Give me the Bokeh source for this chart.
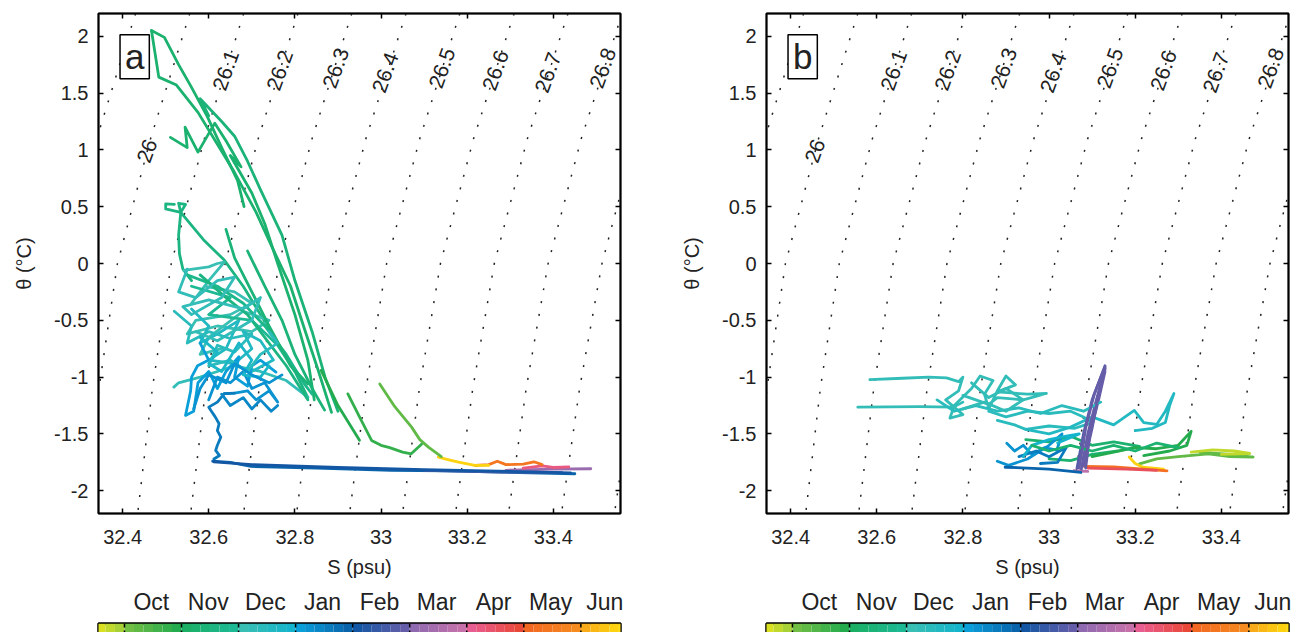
import numpy as np
from bokeh.plotting import figure
from bokeh.models import (ColumnDataSource, Range1d, LinearAxis, FixedTicker, Label,
                          Span, BoxAnnotation, NumeralTickFormatter, CustomJSTickFormatter)
from bokeh.transform import linear_cmap
from bokeh.layouts import column, row
from bokeh.embed import file_html
from bokeh.resources import INLINE
from bokeh.core.properties import value

FONT = "Liberation Sans"

# ---------------- data ----------------
x_ticks = [32.4, 32.6, 32.8, 33.0, 33.2, 33.4]
y_ticks = [-2, -1.5, -1, -0.5, 0, 0.5, 1, 1.5, 2]
months = ["Oct", "Nov", "Dec", "Jan", "Feb", "Mar", "Apr", "May", "Jun"]
month_label_pos = [1.47, 2.47, 3.47, 4.47, 5.47, 6.47, 7.47, 8.47, 9.42]
month_bounds = [1, 2, 3, 4, 5, 6, 7, 8, 9]

# isopycnals (sigma-theta): S at theta levels
iso_theta = [2.2, 1.1, 0.0, -1.1, -2.2]
iso_sigma = [25.9, 26.0, 26.1, 26.2, 26.3, 26.4, 26.5, 26.6, 26.7, 26.8, 26.9, 27.0]
iso_S = [
    [32.430, 32.340, 32.263, 32.221, 32.189],
    [32.556, 32.465, 32.388, 32.345, 32.312],
    [32.681, 32.590, 32.513, 32.469, 32.435],
    [32.807, 32.715, 32.638, 32.593, 32.558],
    [32.932, 32.840, 32.763, 32.717, 32.681],
    [33.058, 32.965, 32.888, 32.841, 32.804],
    [33.183, 33.090, 33.013, 32.965, 32.927],
    [33.309, 33.215, 33.138, 33.089, 33.050],
    [33.434, 33.340, 33.263, 33.213, 33.173],
    [33.560, 33.465, 33.388, 33.337, 33.296],
    [33.685, 33.590, 33.513, 33.461, 33.419],
    [33.811, 33.715, 33.638, 33.585, 33.542],
]
iso_label_text = ["26", "26.1", "26.2", "26.3", "26.4", "26.5", "26.6", "26.7", "26.8"]
iso_label_S = [32.457, 32.640, 32.765, 32.895, 33.010, 33.142, 33.266, 33.388, 33.515]
iso_label_T = [0.99, 1.70, 1.70, 1.72, 1.68, 1.72, 1.70, 1.68, 1.72]

# colour-bar anchor colours (time in months: 1 = 1 Oct ... 9 = 1 Jun)
cmap_t = [0.545, 0.999, 1.0, 1.999, 2.0, 2.999, 3.0, 3.999, 4.0, 4.999,
          5.0, 5.999, 6.0, 6.999, 7.0, 7.999, 8.0, 8.999, 9.0, 9.834]
cmap_hex = ["#dfe31e", "#9ccc3c", "#78c043", "#1ca94f", "#1aae5f", "#1dba9a",
            "#3dc0b0", "#10b4cf", "#0aa5de", "#0a5ea8", "#0b56a3", "#6e5ea9",
            "#8b69b0", "#cc72ab", "#e9609b", "#e9452f", "#f26522", "#f68e20",
            "#f9a51c", "#fde60c"]

# panel a tracks: salinity, temperature, time (months)
a_S = [
    [32.467, 32.497, 32.53, 32.56, 32.597, 32.63, 32.667, 32.682],
    [32.467, 32.484, 32.525, 32.575, 32.62, 32.66, 32.71, 32.75, 32.79, 32.82, 32.855, 32.885],
    [32.511, 32.55, 32.545, 32.575, 32.614, 32.64, 32.675, 32.65, 32.70, 32.73, 32.76, 32.80, 32.83, 32.845],
    [32.60, 32.58, 32.63, 32.66, 32.69, 32.72, 32.77, 32.80, 32.84, 32.87, 32.90],
    [32.52, 32.50, 32.50, 32.535, 32.546, 32.53, 32.535, 32.59, 32.636, 32.68, 32.72, 32.76, 32.80, 32.83],
    [32.535, 32.53, 32.532, 32.54, 32.56],
    [32.542, 32.60, 32.62, 32.636, 32.60, 32.56, 32.59, 32.66, 32.70, 32.65, 32.57, 32.55, 32.62, 32.70, 32.74, 32.68, 32.60, 32.58, 32.63],
    [32.519, 32.53, 32.58, 32.62, 32.66, 32.72, 32.78, 32.83],
    [32.56, 32.60, 32.58, 32.62, 32.67, 32.64, 32.60, 32.66, 32.70, 32.68, 32.72, 32.75, 32.70],
    [32.55, 32.62, 32.68, 32.73, 32.78, 32.82, 32.84],
    [32.56, 32.65, 32.60, 32.70, 32.76, 32.80],
    [32.58, 32.60, 32.574, 32.56, 32.558, 32.546, 32.565, 32.575, 32.60, 32.62, 32.64, 32.67, 32.66, 32.69, 32.70, 32.72, 32.756],
    [32.60, 32.62, 32.65, 32.68, 32.70, 32.73, 32.76, 32.74, 32.71, 32.69, 32.66, 32.636],
    [32.66, 32.636, 32.62, 32.60, 32.605, 32.615, 32.624, 32.62, 32.628, 32.62, 32.616, 32.625, 32.612],
    [32.609, 32.65, 32.698, 32.85, 33.024, 33.15, 33.28, 33.45],
    [33.10, 33.28, 33.42],
    [33.29, 33.40, 33.487],
    [33.33, 33.374, 33.40, 33.436],
    [33.218, 33.25, 33.27, 33.29, 33.33, 33.355, 33.374],
    [33.133, 33.16, 33.18, 33.218, 33.25],
    [32.997, 33.03, 33.071, 33.09, 33.11, 33.14],
    [32.923, 32.95, 32.978, 33.0, 33.02, 33.05, 33.07, 33.094],
    [32.861, 32.90, 32.95],
    [32.69, 32.73, 32.77, 32.80, 32.84, 32.869],
    [32.64, 32.66, 32.70, 32.74, 32.79, 32.83],
    [32.58, 32.64, 32.69, 32.74, 32.78, 32.81, 32.83],
    [32.55, 32.53, 32.57, 32.62, 32.66, 32.63, 32.56, 32.54, 32.60, 32.68, 32.72, 32.70, 32.62, 32.57],
    [32.52, 32.56, 32.55, 32.60, 32.65, 32.70, 32.66, 32.62, 32.60, 32.65, 32.69, 32.72, 32.76, 32.74],
    [32.58, 32.62, 32.60, 32.63, 32.67, 32.70, 32.68, 32.72, 32.74],
    [32.565, 32.58, 32.60, 32.64, 32.66, 32.70, 32.74, 32.77],
    [32.63, 32.65, 32.68, 32.70, 32.72, 32.745, 32.76],
    [32.612, 32.70, 32.90, 33.10, 33.30, 33.44],
]
a_T = [
    [2.05, 1.99, 1.75, 1.55, 1.29, 1.02, 0.73, 0.50],
    [2.05, 1.64, 1.57, 1.33, 1.05, 0.80, 0.45, 0.12, -0.20, -0.55, -0.95, -1.31],
    [1.11, 1.02, 1.20, 0.98, 1.235, 1.08, 0.85, 0.95, 0.62, 0.35, 0.0, -0.45, -0.85, -1.20],
    [1.30, 1.45, 1.25, 1.12, 0.90, 0.65, 0.25, -0.15, -0.60, -1.00, -1.30],
    [0.52, 0.525, 0.48, 0.45, 0.52, 0.53, 0.45, 0.20, 0.03, -0.20, -0.45, -0.70, -0.95, -1.18],
    [0.45, 0.25, 0.085, -0.05, -0.15],
    [-0.06, -0.03, 0.0, 0.012, -0.15, -0.35, -0.20, -0.25, -0.35, -0.45, -0.50, -0.62, -0.55, -0.60, -0.50, -0.42, -0.65, -0.80, -0.75],
    [-1.088, -1.05, -1.00, -0.95, -0.90, -0.95, -1.03, -1.176],
    [-0.40, -0.55, -0.70, -0.62, -0.50, -0.75, -0.85, -0.88, -0.75, -0.60, -0.68, -0.85, -0.95],
    [-0.10, -0.20, -0.35, -0.55, -0.80, -1.05, -1.15],
    [-0.20, -0.30, -0.45, -0.50, -0.72, -0.95],
    [-0.70, -0.85, -0.90, -1.00, -1.12, -1.337, -1.30, -1.05, -0.95, -1.10, -0.95, -0.82, -1.00, -1.08, -0.90, -0.85, -0.956],
    [-1.20, -1.00, -1.05, -0.95, -1.10, -1.05, -1.22, -1.12, -1.20, -1.12, -1.14, -1.146],
    [-1.14, -1.146, -1.22, -1.264, -1.294, -1.35, -1.41, -1.47, -1.528, -1.60, -1.645, -1.69, -1.72],
    [-1.74, -1.75, -1.786, -1.80, -1.82, -1.825, -1.836, -1.85],
    [-1.82, -1.835, -1.84],
    [-1.82, -1.81, -1.806],
    [-1.80, -1.78, -1.795, -1.79],
    [-1.777, -1.77, -1.74, -1.77, -1.765, -1.745, -1.77],
    [-1.704, -1.73, -1.748, -1.777, -1.777],
    [-1.06, -1.25, -1.44, -1.55, -1.616, -1.70],
    [-1.147, -1.35, -1.557, -1.60, -1.62, -1.66, -1.675, -1.59],
    [-0.94, -1.25, -1.556],
    [0.11, -0.20, -0.50, -0.80, -1.10, -1.29],
    [0.30, 0.05, -0.25, -0.55, -0.90, -1.06],
    [-0.10, -0.30, -0.45, -0.70, -0.90, -1.08, -1.20],
    [-0.05, -0.25, -0.30, -0.15, -0.12, -0.30, -0.45, -0.38, -0.32, -0.40, -0.30, -0.50, -0.68, -0.60],
    [-0.42, -0.55, -0.70, -0.60, -0.66, -0.62, -0.78, -0.72, -0.90, -0.85, -0.95, -0.80, -0.70, -0.60],
    [-0.65, -0.78, -0.88, -0.95, -0.70, -0.85, -0.98, -1.00, -0.90],
    [-1.28, -1.10, -0.98, -1.05, -0.88, -0.98, -1.05, -0.98],
    [-1.15, -1.25, -1.18, -1.28, -1.20, -1.30, -1.25],
    [-1.745, -1.77, -1.795, -1.815, -1.83, -1.842],
]
a_month = [2.2, 2.25, 2.3, 2.35, 2.5, 2.55, 3.1, 3.3, 3.5, 2.8, 2.85,
           4.1, 4.3, 4.5, 4.95, 5.5, 6.2, 7.3, 8.4, 9.5, 1.2, 1.7, 1.85,
           2.4, 2.45, 2.6, 3.2, 3.4, 3.7, 4.2, 4.4, 5.05]

# panel b tracks
b_S = [
    [32.556, 32.70, 32.778, 32.80],
    [32.584, 32.66, 32.72, 32.762, 32.79, 32.80, 32.79, 32.76, 32.80, 32.77, 32.78, 32.82, 32.84, 32.87, 32.85, 32.86, 32.88, 32.90, 32.922, 32.88, 32.95, 32.994, 32.94, 32.88, 32.86, 32.83, 32.80],
    [32.86, 32.90, 32.95, 33.0, 33.05, 33.08, 33.10, 33.06, 33.0, 32.946, 32.92, 32.88],
    [32.946, 33.0, 33.05, 33.10, 33.15, 33.198, 33.22, 33.25, 33.27, 33.29, 33.28, 33.27, 33.24, 33.20],
    [32.946, 33.0, 33.05, 33.10, 33.15, 33.21, 33.16, 33.10, 33.05, 33.0],
    [33.10, 33.15, 33.20, 33.25, 33.30, 33.33, 33.32, 33.28, 33.22],
    [33.21, 33.25, 33.30, 33.37, 33.42, 33.474, 33.42, 33.35],
    [33.33, 33.38, 33.43, 33.466, 33.40],
    [33.186, 33.20, 33.218, 33.266],
    [33.082, 33.15, 33.22, 33.274],
    [33.09, 33.18, 33.25],
    [33.058, 33.09],
    [33.065, 33.08, 33.10, 33.13],
    [33.075, 33.09, 33.11, 33.13],
    [33.085, 33.095, 33.115, 33.13],
    [32.902, 32.92, 32.94, 32.96, 32.99, 33.018, 33.03, 33.0, 32.95, 32.906, 32.88],
    [32.93, 32.97, 33.0, 33.04, 33.02, 32.98],
    [32.898, 32.95, 33.0, 33.074],
    [32.94, 32.96, 33.0, 33.04, 33.07, 33.02],
    [32.74, 32.78, 32.83, 32.88, 32.93, 32.98, 33.03, 33.08, 33.12],
    [32.82, 32.86, 32.90, 32.94, 32.90, 32.85, 32.80],
    [32.96, 33.0, 33.05, 33.10, 33.15, 33.20, 33.25, 33.30],
    [33.07, 33.085, 33.105, 33.13],
    [33.08, 33.10, 33.115, 33.13],
]
b_T = [
    [-1.264, -1.26, -1.264, -1.22],
    [-1.022, -1.01, -1.0, -1.007, -1.04, -1.0, -1.12, -1.20, -1.33, -1.36, -1.25, -1.10, -0.99, -1.03, -1.15, -1.28, -1.12, -0.99, -1.068, -1.13, -1.15, -1.144, -1.20, -1.18, -1.24, -1.20, -1.16],
    [-1.30, -1.35, -1.30, -1.32, -1.30, -1.35, -1.40, -1.45, -1.43, -1.46, -1.42, -1.38],
    [-1.46, -1.50, -1.44, -1.35, -1.42, -1.293, -1.40, -1.416, -1.30, -1.144, -1.25, -1.40, -1.45, -1.47],
    [-1.55, -1.57, -1.52, -1.60, -1.57, -1.61, -1.65, -1.68, -1.734, -1.72],
    [-1.70, -1.66, -1.62, -1.63, -1.60, -1.477, -1.60, -1.65, -1.69],
    [-1.764, -1.72, -1.70, -1.675, -1.70, -1.703, -1.68, -1.66],
    [-1.66, -1.64, -1.65, -1.672, -1.68],
    [-1.703, -1.76, -1.793, -1.81],
    [-1.786, -1.79, -1.81, -1.824],
    [-1.80, -1.81, -1.82],
    [-1.824, -1.83],
    [-1.80, -1.50, -1.20, -0.90],
    [-1.81, -1.50, -1.20, -0.92],
    [-1.80, -1.50, -1.20, -0.95],
    [-1.582, -1.65, -1.60, -1.68, -1.62, -1.643, -1.50, -1.60, -1.72, -1.777, -1.74],
    [-1.70, -1.65, -1.70, -1.62, -1.75, -1.76],
    [-1.793, -1.80, -1.81, -1.839],
    [-1.70, -1.60, -1.55, -1.52, -1.50, -1.58],
    [-1.20, -1.30, -1.25, -1.30, -1.27, -1.32, -1.25, -1.30, -1.22],
    [-1.05, -1.18, -1.10, -1.20, -1.30, -1.22, -1.28],
    [-1.60, -1.65, -1.60, -1.65, -1.60, -1.65, -1.58, -1.62],
    [-1.80, -1.45, -1.15, -0.91],
    [-1.78, -1.45, -1.15, -0.93],
]
b_month = [3.3, 3.3, 3.45, 3.6, 2.3, 1.9, 1.25, 0.75, 9.55, 8.2, 7.5, 6.8,
           5.8, 5.85, 5.9, 4.3, 4.6, 4.9, 3.9, 3.35, 3.25, 2.2, 5.85, 5.9]

# ---------------- palette (discrete bands, 6 per month) ----------------
def _rgb(h):
    return np.array([int(h[i:i + 2], 16) for i in (1, 3, 5)], dtype=float)

N_BANDS = 56
CM_LOW = 0.5
CM_HIGH = CM_LOW + N_BANDS / 6.0
palette = []
for i in range(N_BANDS):
    tc = CM_LOW + (i + 0.5) / 6.0
    tc = min(max(tc, cmap_t[0]), cmap_t[-1])
    k = int(np.searchsorted(cmap_t, tc, side="right") - 1)
    k = min(k, len(cmap_t) - 2)
    f = (tc - cmap_t[k]) / (cmap_t[k + 1] - cmap_t[k])
    c = _rgb(cmap_hex[k]) * (1 - f) + _rgb(cmap_hex[k + 1]) * f
    palette.append("#%02x%02x%02x" % tuple(int(round(v)) for v in c))

X_RANGE = (32.344, 33.556)
Y_RANGE = (-2.2, 2.2)
CB_RANGE = (0.545, 9.695)
FRAME_W = 522
FRAME_H = 500
EMPTY = "return ''"


def make_panel(S_list, T_list, m_list, letter, left_border, right_border):
    p = figure(frame_width=FRAME_W, frame_height=FRAME_H,
               x_range=Range1d(*X_RANGE), y_range=Range1d(*Y_RANGE),
               output_backend="svg", toolbar_location=None,
               min_border_left=left_border, min_border_right=right_border,
               min_border_top=13, min_border_bottom=72)
    p.grid.visible = False
    p.background_fill_color = "white"
    p.outline_line_color = "black"
    p.outline_line_width = 2
    p.outline_line_alpha = 1

    # isopycnals
    p.multi_line(xs=iso_S, ys=[iso_theta] * len(iso_S), line_color="#222222",
                 line_width=1.5, line_dash="2 11")
    p.text(x=iso_label_S, y=iso_label_T, text=iso_label_text, angle=np.deg2rad(70),
           text_align="center", text_baseline="middle", text_font=value(FONT),
           text_font_size="21px", text_color="#222222")

    src = ColumnDataSource(dict(xs=S_list, ys=T_list, m=m_list))
    p.multi_line(xs="xs", ys="ys", source=src, line_width=2.8,
                 line_color=linear_cmap("m", palette, CM_LOW, CM_HIGH),
                 line_join="round", line_cap="round")

    # panel letter in a box
    p.add_layout(BoxAnnotation(left=32.394, right=32.462, top=2.012, bottom=1.625,
                               fill_color="white", fill_alpha=1,
                               line_color="black", line_alpha=1, line_width=1.5))
    p.add_layout(Label(x=32.428, y=1.82, text=letter, text_align="center",
                       text_baseline="middle", text_font=FONT,
                       text_font_size="35px", text_color="#222222"))

    for ax in (p.xaxis[0], p.yaxis[0]):
        ax.major_tick_in = 5
        ax.major_tick_out = 0
        ax.minor_tick_line_color = None
        ax.axis_line_color = "black"
        ax.axis_line_width = 1.5
        ax.major_tick_line_width = 1.5
        ax.major_label_text_font = FONT
        ax.major_label_text_font_size = "20px"
        ax.major_label_text_color = "#222222"
        ax.axis_label_text_font = FONT
        ax.axis_label_text_font_size = "20px"
        ax.axis_label_text_font_style = "normal"
        ax.axis_label_text_color = "#222222"
        ax.formatter = NumeralTickFormatter(format="0.[0]")
    p.xaxis.ticker = FixedTicker(ticks=x_ticks)
    p.yaxis.ticker = FixedTicker(ticks=y_ticks)
    p.xaxis.axis_label = "S (psu)"
    p.yaxis.axis_label = "θ (°C)"
    p.xaxis.major_label_standoff = 16
    p.xaxis.axis_label_standoff = 9
    p.yaxis.major_label_standoff = 10
    p.yaxis.axis_label_standoff = 16

    for loc, tk in (("above", x_ticks), ("right", y_ticks)):
        ax = LinearAxis(ticker=FixedTicker(ticks=tk), major_tick_in=5, major_tick_out=0,
                        minor_tick_line_color=None,
                        formatter=CustomJSTickFormatter(code=EMPTY),
                        major_label_standoff=0, axis_line_color="black",
                        axis_line_width=1.5, major_tick_line_width=1.5)
        p.add_layout(ax, loc)
    return p


def make_cbar(left_border, right_border):
    c = figure(frame_width=FRAME_W, frame_height=19,
               x_range=Range1d(*CB_RANGE), y_range=Range1d(0, 1),
               output_backend="svg", toolbar_location=None,
               x_axis_location="above", y_axis_location=None,
               min_border_left=left_border, min_border_right=right_border,
               min_border_top=36, min_border_bottom=0)
    c.grid.visible = False
    edges = CM_LOW + np.arange(N_BANDS + 1) / 6.0
    c.quad(left=edges[:-1], right=edges[1:], bottom=0, top=1,
           fill_color=palette, line_color=None)
    for mb in month_bounds:
        c.add_layout(Span(location=mb, dimension="height", line_color="black",
                          line_width=1.5, line_dash="4 3"))
    c.outline_line_color = "black"
    c.outline_line_width = 2.5
    ax = c.xaxis[0]
    ax.ticker = FixedTicker(ticks=month_label_pos)
    ax.major_label_overrides = {v: m for v, m in zip(month_label_pos, months)}
    ax.major_tick_line_color = None
    ax.minor_tick_line_color = None
    ax.axis_line_color = None
    ax.major_label_standoff = 3
    ax.major_label_text_font = FONT
    ax.major_label_text_font_size = "23px"
    ax.major_label_text_color = "#222222"
    return c


pa = make_panel(a_S, a_T, a_month, "a", 98, 58)
pb = make_panel(b_S, b_T, b_month, "b", 88, 6)
ca = make_cbar(98, 58)
cb = make_cbar(88, 6)

layout = column(row(pa, pb), row(ca, cb))
open("out.html", "w").write(file_html(layout, INLINE))
